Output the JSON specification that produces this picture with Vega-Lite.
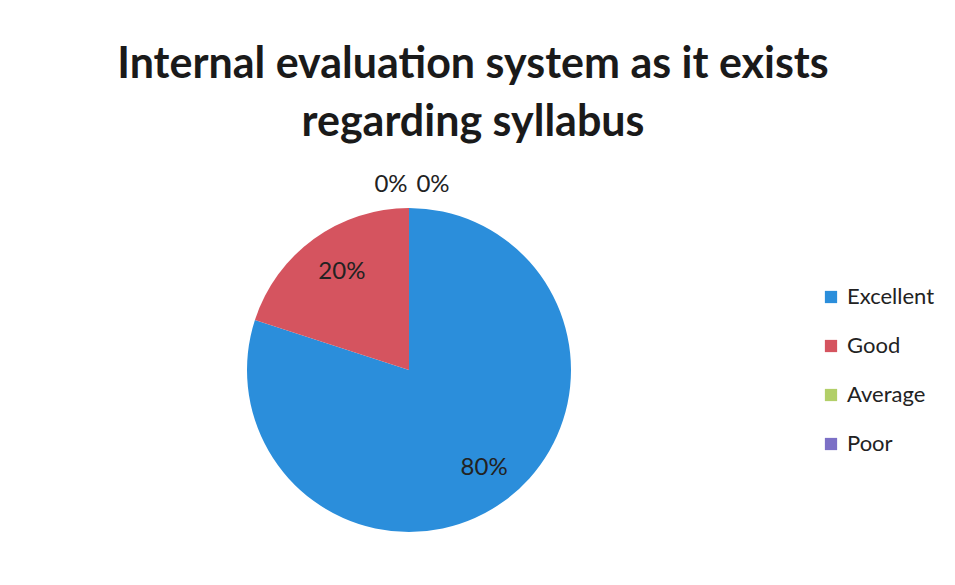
{
  "$schema": "https://vega.github.io/schema/vega-lite/v6.json",
  "autosize": {"type": "none"},
  "width": 324,
  "height": 324,
  "padding": {"left": 247, "top": 208, "right": 384, "bottom": 53},
  "background": "white",
  "config": {"view": {"stroke": null}, "font": "Lato"},
  "title": {
    "text": ["Internal evaluation system as it exists", "regarding syllabus"],
    "font": "Lato",
    "fontSize": 43,
    "fontWeight": "bold",
    "color": "#1a1a1a",
    "lineHeight": 58,
    "anchor": "middle",
    "frame": "group",
    "dx": 64,
    "offset": 28
  },
  "data": {
    "values": [
      {"Category": "Excellent", "share": 0.8, "rank": 1},
      {"Category": "Good", "share": 0.2, "rank": 2},
      {"Category": "Average", "share": 0, "rank": 3},
      {"Category": "Poor", "share": 0, "rank": 4}
    ]
  },
  "encoding": {
    "theta": {"field": "share", "type": "quantitative", "stack": true},
    "order": {"field": "rank", "type": "quantitative"}
  },
  "layer": [
    {
      "mark": {"type": "arc", "outerRadius": 162},
      "encoding": {
        "color": {
          "field": "Category",
          "type": "nominal",
          "sort": ["Excellent", "Good", "Average", "Poor"],
          "scale": {
            "domain": ["Excellent", "Good", "Average", "Poor"],
            "range": ["#2b8edb", "#d5545f", "#b2cf68", "#7c70c6"]
          },
          "legend": {
            "title": null,
            "orient": "none",
            "legendX": 573,
            "legendY": 78,
            "symbolType": "square",
            "symbolSize": 150,
            "symbolStrokeWidth": 0,
            "labelFontSize": 22,
            "labelColor": "#222222",
            "labelFont": "Lato",
            "rowPadding": 27,
            "labelOffset": 5
          }
        }
      }
    },
    {
      "mark": {"type": "text", "radius": 121, "fontSize": 24, "color": "#222222", "dx": 4},
      "encoding": {
        "detail": {"field": "Category"},
        "text": {
          "condition": {"test": "datum.share > 0", "field": "share", "type": "quantitative", "format": ".0%"},
          "value": ""
        }
      }
    },
    {
      "mark": {"type": "text", "radius": 185, "dx": -18, "fontSize": 24, "color": "#222222"},
      "encoding": {
        "detail": {"field": "Category"},
        "text": {
          "condition": {"test": "datum.Category === 'Average'", "field": "share", "type": "quantitative", "format": ".0%"},
          "value": ""
        }
      }
    },
    {
      "mark": {"type": "text", "radius": 185, "dx": 24, "fontSize": 24, "color": "#222222"},
      "encoding": {
        "detail": {"field": "Category"},
        "text": {
          "condition": {"test": "datum.Category === 'Poor'", "field": "share", "type": "quantitative", "format": ".0%"},
          "value": ""
        }
      }
    }
  ]
}
